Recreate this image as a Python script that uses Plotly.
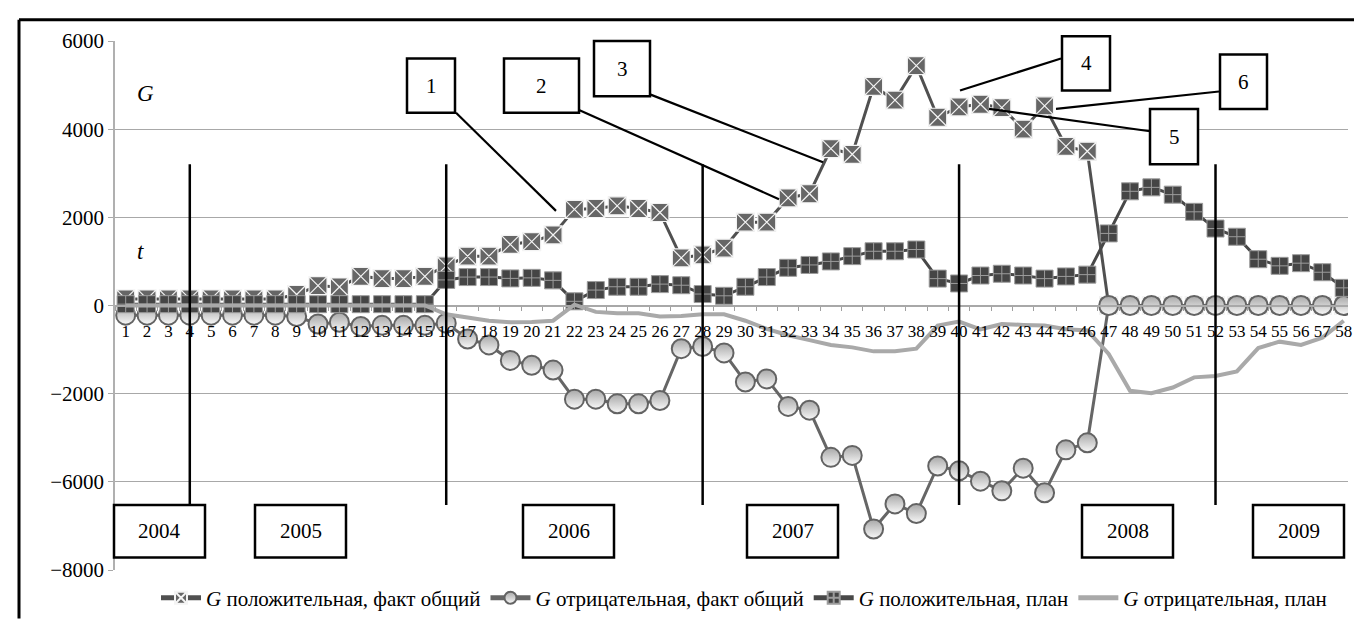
import plotly.graph_objects as go

# ---------------- data ----------------
categories = list(range(1, 59))
tick_labels = [str(c) for c in categories]

g_pos_fact = [150, 150, 150, 150, 150, 150, 150, 150, 250, 450, 420, 660, 610, 610, 660,
              900, 1120, 1120, 1385, 1450, 1600, 2180, 2200, 2260, 2200, 2110, 1080, 1150,
              1300, 1890, 1890, 2440, 2535, 3560, 3430, 4970, 4660, 5440, 4270, 4505, 4565,
              4490, 4000, 4530, 3610, 3500, 0, 0, 0, 0, 0, 0, 0, 0, 0, 0, 0, 0]
g_neg_fact = [-220, -220, -220, -220, -220, -220, -220, -220, -250, -420, -380, -475, -450,
              -450, -450, -400, -760, -895, -1245, -1355, -1465, -2125, -2125, -2230, -2230,
              -2155, -980, -930, -1075, -1735, -1665, -2290, -2375, -3445, -3400, -5070, -4500,
              -4720, -3640, -3750, -3985, -4205, -3690, -4250, -3275, -3115, 0, 0, 0, 0, 0, 0,
              0, 0, 0, 0, 0, 0]
g_pos_plan = [30, 30, 30, 30, 30, 30, 30, 30, 30, 30, 30, 30, 30, 30, 30,
              580, 645, 645, 615, 627, 570, 95, 350, 425, 425, 485, 460, 260, 220, 425, 645,
              855, 920, 1000, 1120, 1230, 1230, 1270, 610, 500, 680, 720, 680, 610, 660, 700,
              1635, 2590, 2680, 2515, 2125, 1745, 1560, 1050, 900, 960, 755, 400]
g_neg_plan = [0, 0, 0, 0, 0, 0, 0, 0, 0, 0, 0, 0, 0, 0, 0,
              -200, -270, -345, -380, -375, -345, 20, -145, -175, -175, -250, -240, -200, -200,
              -345, -530, -675, -785, -895, -950, -1040, -1040, -980, -455, -365, -540, -420,
              -440, -455, -540, -565, -1100, -1935, -1990, -1860, -1630, -1600, -1495, -965,
              -820, -895, -730, -345]

series_names = ["<i>G</i> положительная, факт общий",
                "<i>G</i> отрицательная, факт общий",
                "<i>G</i> положительная, план",
                "<i>G</i> отрицательная, план"]

y_tick_vals = [6000, 4000, 2000, 0, -2000, -4000, -6000]
y_tick_text = ["6000", "4000", "2000", "0", "\u22122000", "\u22126000", "\u22128000"]

year_labels = ["2004", "2005", "2006", "2007", "2008", "2009"]
year_breaks = [4, 16, 28, 40, 52]
callout_labels = ["1", "2", "3", "4", "5", "6"]

# ---------------- layout helpers ----------------
W, H = 1362, 623
ML, MR, MT, MB = 107, 22, 33, 45
PW = W - ML - MR
PH = H - MT - MB


def px(x):
    return (x - ML) / PW


def py(y):
    return (H - MB - y) / PH


FONT = "Liberation Serif"

fig = go.Figure()
fig.add_trace(go.Scatter(
    x=categories, y=g_pos_fact, mode="lines+markers", name=series_names[0],
    line=dict(color="#505050", width=3),
    marker=dict(symbol="square-x", size=18, color="#666666",
                line=dict(color="#f4f4f4", width=1.2))))
fig.add_trace(go.Scatter(
    x=categories, y=g_neg_fact, mode="lines+markers", name=series_names[1],
    line=dict(color="#666666", width=3),
    marker=dict(symbol="circle", size=19, color="#a8a8a8",
                gradient=dict(type="vertical", color="#f8f8f8"),
                line=dict(color="#636363", width=2))))
fig.add_trace(go.Scatter(
    x=categories, y=g_pos_plan, mode="lines+markers", name=series_names[2],
    line=dict(color="#484848", width=3),
    marker=dict(symbol="square-cross", size=17, color="#454545",
                line=dict(color="#9c9c9c", width=1))))
fig.add_trace(go.Scatter(
    x=categories, y=g_neg_plan, mode="lines", name=series_names[3],
    line=dict(color="#a9a9a9", width=4)))

shapes = []
annotations = []

# outer frame (top and left)
shapes.append(dict(type="line", xref="paper", yref="paper", x0=px(11), x1=px(W + 5),
                   y0=py(11), y1=py(11), line=dict(color="black", width=3), layer="above"))
shapes.append(dict(type="line", xref="paper", yref="paper", x0=px(11), x1=px(11),
                   y0=py(11), y1=py(H + 5), line=dict(color="black", width=3), layer="above"))

# year divider lines
for b in year_breaks:
    shapes.append(dict(type="line", xref="x", yref="paper", x0=b, x1=b,
                       y0=py(160), y1=py(511), line=dict(color="black", width=2.5),
                       layer="above"))

# year boxes
year_left = [106, 247, 515, 739, 1074, 1245]
for lab, xl in zip(year_labels, year_left):
    shapes.append(dict(type="rect", xref="paper", yref="paper", x0=px(xl), x1=px(xl + 91),
                       y0=py(511), y1=py(565), fillcolor="white",
                       line=dict(color="black", width=2.5), layer="above"))
    annotations.append(dict(xref="paper", yref="paper", x=px(xl + 45.5), y=py(538),
                            text=lab, showarrow=False, font=dict(size=21, family=FONT),
                            xanchor="center", yanchor="middle"))

# callout leader lines
leaders = [((448, 107), (548, 208)), ((571, 104), (771, 196)), ((642, 88), (815, 158)),
           ((1053, 51), (952, 84)), ((1142, 126), (981, 103)), ((1211, 85), (1048, 103))]
for (x0, y0), (x1, y1) in leaders:
    shapes.append(dict(type="line", xref="paper", yref="paper", x0=px(x0), x1=px(x1),
                       y0=py(y0), y1=py(y1), line=dict(color="black", width=2.2),
                       layer="above"))

# callout boxes
boxes = [(399, 51, 447, 107), (496, 51, 571, 107), (586, 33, 642, 90),
         (1054, 28, 1102, 84), (1142, 103, 1190, 160), (1212, 47, 1259, 103)]
for lab, (x0, y0, x1, y1) in zip(callout_labels, boxes):
    shapes.append(dict(type="rect", xref="paper", yref="paper", x0=px(x0), x1=px(x1),
                       y0=py(y0), y1=py(y1), fillcolor="white",
                       line=dict(color="black", width=2.5), layer="above"))
    annotations.append(dict(xref="paper", yref="paper", x=px((x0 + x1) / 2),
                            y=py((y0 + y1) / 2), text=lab, showarrow=False,
                            font=dict(size=21, family=FONT), xanchor="center",
                            yanchor="middle"))

# axis letters
annotations.append(dict(xref="paper", yref="paper", x=px(137), y=py(87), text="<i>G</i>",
                        showarrow=False, font=dict(size=23, family=FONT),
                        xanchor="center", yanchor="middle"))
annotations.append(dict(xref="paper", yref="paper", x=px(132), y=py(250), text="<i>t</i>",
                        showarrow=False, font=dict(size=23, family=FONT),
                        xanchor="center", yanchor="middle"))

fig.update_layout(
    width=W, height=H,
    margin=dict(l=ML, r=MR, t=MT, b=MB, pad=0),
    paper_bgcolor="white", plot_bgcolor="white",
    font=dict(family=FONT, color="black", size=20),
    showlegend=True,
    legend=dict(orientation="h", x=px(736), xanchor="center", y=py(607),
                yanchor="middle", font=dict(size=21, family=FONT),
                bgcolor="rgba(0,0,0,0)", itemsizing="constant", itemwidth=40),
    xaxis=dict(range=[0.5, 58.2], tickmode="array", tickvals=categories,
               ticktext=tick_labels, tickangle=0, ticks="", showgrid=False,
               zeroline=False, showline=True, linecolor="#a8a8a8", linewidth=2,
               anchor="free", position=0.5, tickfont=dict(size=17, family=FONT),
               ticklabelstandoff=10,
               minor=dict(ticks="outside", tick0=0.5, dtick=1, ticklen=4,
                          tickcolor="#a0a0a0", showgrid=False)),
    yaxis=dict(range=[-6000, 6000], tickmode="array", tickvals=y_tick_vals,
               ticktext=y_tick_text, showgrid=True, gridcolor="#a8a8a8", gridwidth=1.3,
               zeroline=False, showline=True, linecolor="#b0b0b0", linewidth=1.5,
               ticks="outside", ticklen=5, tickcolor="#a8a8a8",
               tickfont=dict(size=21, family=FONT)),
    shapes=shapes,
    annotations=annotations,
)

fig.write_html("out.html")
